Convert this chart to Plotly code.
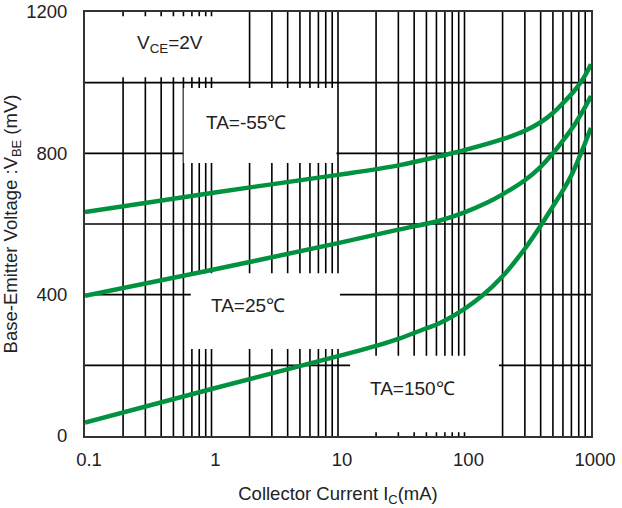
import plotly.graph_objects as go

# Collector current (mA) and base-emitter voltage (mV)
ic_m55 = [0.1, 1, 10, 30, 64, 100, 200, 300, 400, 500, 600, 750, 870, 1000]
vbe_m55 = [634, 688, 739, 766, 792, 809, 840, 864, 888, 914, 942, 980, 1012, 1052]

ic_25 = [0.1, 1, 10, 30, 64, 100, 150, 200, 300, 400, 500, 600, 750, 870, 1000]
vbe_25 = [397, 470, 546, 584, 610, 633, 660, 684, 724, 762, 800, 836, 884, 922, 962]

ic_150 = [0.1, 1, 10, 20, 30, 50, 64, 100, 137, 200, 300, 400, 500, 600, 700, 800, 900, 1000]
vbe_150 = [38, 133, 226, 255, 275, 305, 320, 360, 396, 452, 530, 595, 650, 695, 738, 785, 830, 872]

x_ticks = [0.1, 1, 10, 100, 1000]
x_tick_text = ["0.1", "1", "10", "100", "1000"]
y_ticks = [0, 400, 800, 1200]
x_grid = [k * 10.0 ** d for d in range(-1, 3) for k in range(1, 10)][1:]
y_grid = [200, 400, 600, 800, 1000]

green = "#00923F"
font = "Liberation Sans, Arial, sans-serif"

fig = go.Figure()
for xs, ys in [(ic_m55, vbe_m55), (ic_25, vbe_25), (ic_150, vbe_150)]:
    fig.add_trace(go.Scatter(x=xs, y=ys, mode="lines",
                             line=dict(color=green, width=4.5, shape="spline", smoothing=1.0),
                             showlegend=False, hoverinfo="skip"))

# grid lines (drawn as shapes so the white label boxes can cover them)
for xv in x_grid:
    fig.add_shape(type="line", xref="x", yref="paper", x0=xv, x1=xv, y0=0, y1=1,
                  line=dict(color="black", width=1.6), layer="below")
for yv in y_grid:
    fig.add_shape(type="line", xref="paper", yref="y", x0=0, x1=1, y0=yv, y1=yv,
                  line=dict(color="black", width=1.6), layer="below")

# white label boxes (paper coordinates)
boxes = [(0.0, 0.322, 0.846, 0.99), (0.195, 0.497, 0.644, 0.821),
         (0.209, 0.504, 0.205, 0.384), (0.524, 0.818, 0.009, 0.189)]
for x0, x1, y0, y1 in boxes:
    fig.add_shape(type="rect", xref="paper", yref="paper", x0=x0, x1=x1, y0=y0, y1=y1,
                  fillcolor="white", line=dict(width=0), layer="below")

labels = [("V<sub>CE</sub>=2V", 0.168, 0.925), ("TA=-55℃", 0.318, 0.74),
          ("TA=25℃", 0.322, 0.307), ("TA=150℃", 0.648, 0.113)]
for t, x, y in labels:
    fig.add_annotation(text=t, xref="paper", yref="paper", x=x, y=y, showarrow=False,
                       xanchor="center", yanchor="middle",
                       font=dict(size=19, color="#222", family=font))

fig.update_layout(
    width=622, height=508,
    margin=dict(l=85, r=31, t=12, b=72),
    paper_bgcolor="white", plot_bgcolor="white",
    font=dict(family=font, size=18.5, color="#222"),
    xaxis=dict(type="log", range=[-1, 3], tickvals=x_ticks, ticktext=x_tick_text,
               showgrid=False, automargin=False, ticklabelstandoff=6, ticklabelshift=4,
               showline=True, linecolor="#333", linewidth=2, mirror=True, ticks="",
               title=dict(text="Collector Current I<sub>C</sub>(mA)", font=dict(size=18.5), standoff=18)),
    yaxis=dict(range=[0, 1200], tickvals=y_ticks, showgrid=False, automargin=False,
               ticklabelstandoff=12,
               showline=True, linecolor="#333", linewidth=2, mirror=True, ticks="", zeroline=False,
               title=dict(text="Base-Emitter Voltage :V<sub>BE</sub> (mV)", font=dict(size=18.5), standoff=8)),
)
fig.write_html("out.html", config={"displayModeBar": False},
               post_script="document.body.style.margin='0';document.body.style.padding='0';")
